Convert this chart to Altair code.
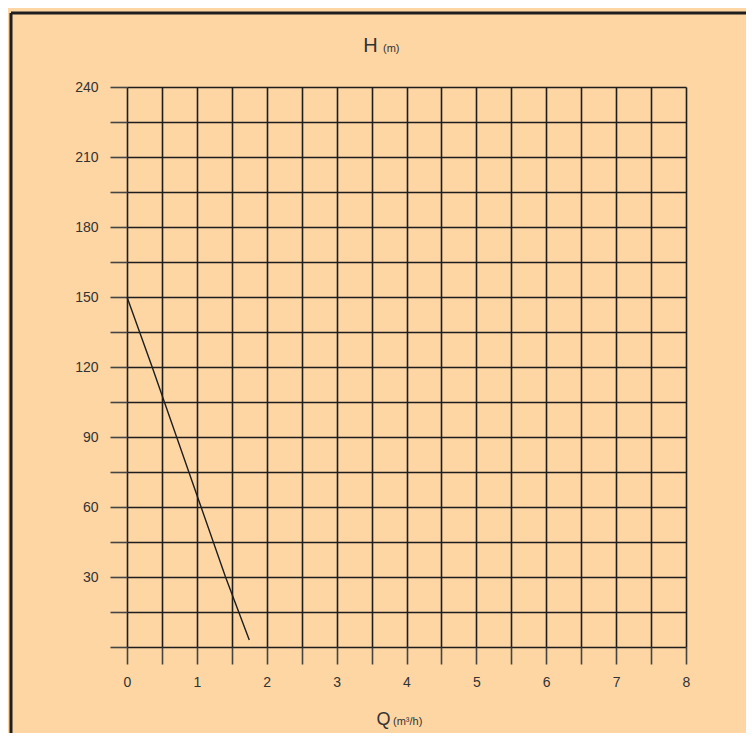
import altair as alt
import pandas as pd

# Data
q_values = [0.0, 0.36, 0.71, 1.06, 1.41, 1.75]
h_values = [150, 120, 90, 60, 30, 3]

x_ticks = [i * 0.5 for i in range(17)]
y_ticks = [i * 15 for i in range(17)]

BG = "#FDD6A4"
INK = "#1e1e1e"
FONT = "Liberation Sans"

df = pd.DataFrame({"Q": q_values, "H": h_values})

W, H = 559, 560
PAD_L, PAD_T, PAD_R, PAD_B = 119, 79, 60, 86

base = alt.Chart(df)

curve = base.mark_line(color=INK, strokeWidth=1.4).encode(
    x=alt.X(
        "Q:Q",
        scale=alt.Scale(domain=[0, 8], nice=False, zero=False),
        axis=alt.Axis(
            values=x_ticks,
            labelExpr="datum.value % 1 == 0 ? format(datum.value, 'd') : ''",
            title=None,
            grid=True,
            gridColor=INK,
            gridWidth=1.6,
            gridOpacity=1,
            domain=False,
            ticks=True,
            tickSize=17,
            tickColor="#444444",
            tickWidth=1.6,
            labelFontSize=14,
            labelColor="#333333",
            labelFont=FONT,
            labelPadding=11,
            labelFlush=False,
        ),
    ),
    y=alt.Y(
        "H:Q",
        scale=alt.Scale(domain=[0, 240], nice=False),
        axis=alt.Axis(
            values=y_ticks,
            labelExpr="(datum.value % 30 == 0 && datum.value > 0) ? format(datum.value, 'd') : ''",
            title=None,
            grid=True,
            gridColor=INK,
            gridWidth=1.6,
            gridOpacity=1,
            domain=False,
            ticks=True,
            tickSize=17,
            tickColor="#444444",
            tickWidth=1.6,
            labelFontSize=14,
            labelColor="#333333",
            labelFont=FONT,
            labelPadding=12,
        ),
    ),
)

one = alt.Data(values=[{"a": 1}])

frame_top = alt.Chart(one).mark_rule(color=INK, strokeWidth=3).encode(
    x=alt.value(-116), x2=alt.value(W + PAD_R), y=alt.value(-74)
)
frame_left = alt.Chart(one).mark_rule(color=INK, strokeWidth=3).encode(
    x=alt.value(-116), y=alt.value(-74), y2=alt.value(H + PAD_B)
)

title_h = alt.Chart(one).mark_text(
    font=FONT, fontSize=20, color="#333333", align="center", baseline="alphabetic"
).encode(text=alt.value("H"), x=alt.value(243.5), y=alt.value(-35))
title_m = alt.Chart(one).mark_text(
    font=FONT, fontSize=11, color="#333333", align="left", baseline="alphabetic"
).encode(text=alt.value("(m)"), x=alt.value(256), y=alt.value(-35))

xt_q = alt.Chart(one).mark_text(
    font=FONT, fontSize=18, color="#333333", align="center", baseline="alphabetic"
).encode(text=alt.value("Q"), x=alt.value(256.5), y=alt.value(638))
xt_u = alt.Chart(one).mark_text(
    font=FONT, fontSize=11, color="#333333", align="left", baseline="alphabetic"
).encode(text=alt.value("(m³/h)"), x=alt.value(266), y=alt.value(638))

chart = alt.layer(curve, frame_top, frame_left, title_h, title_m, xt_q, xt_u).properties(
    width=W,
    height=H,
    autosize=alt.AutoSizeParams(type="none"),
    padding={"left": PAD_L, "top": PAD_T, "right": PAD_R, "bottom": PAD_B},
    background=BG,
).configure_view(stroke=None)

chart.save("out.html", embed_options={"renderer": "svg", "actions": False})
